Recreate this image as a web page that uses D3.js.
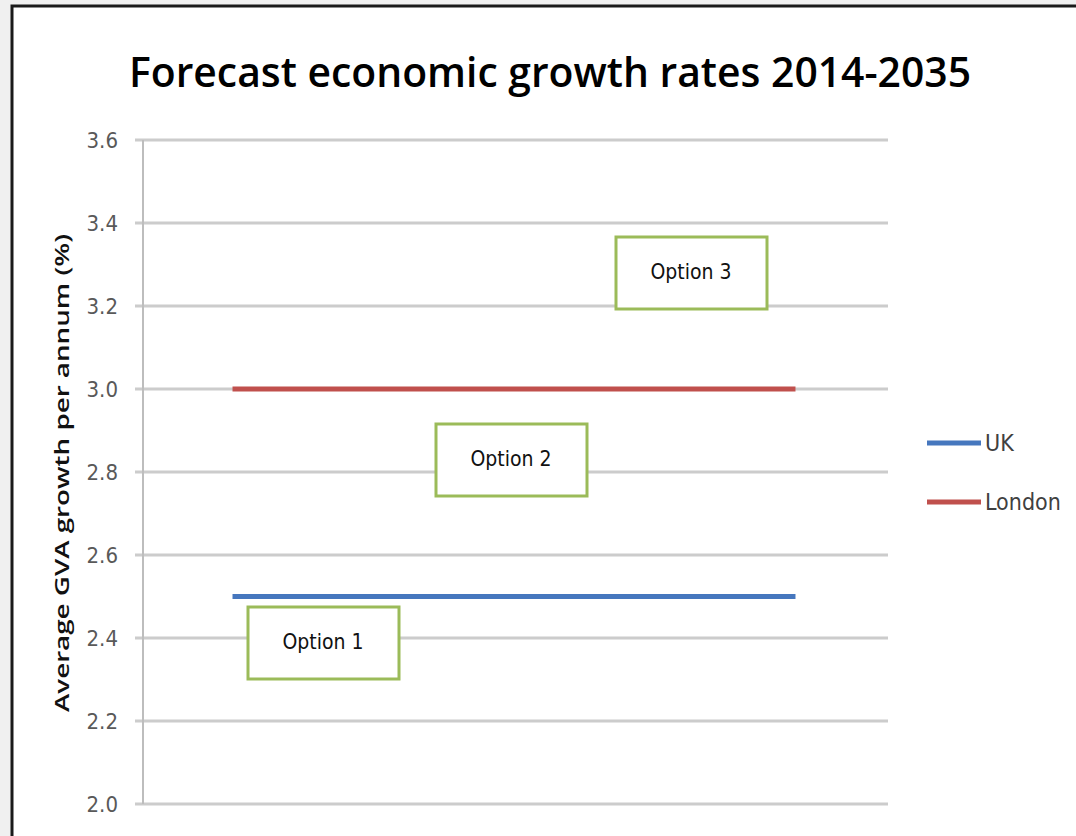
<!DOCTYPE html>
<html>
<head>
<meta charset="utf-8">
<script src="https://cdn.jsdelivr.net/npm/d3@7"></script>
<style>
  body { margin: 0; background: #f0f0f0; }
  svg { display: block; }
</style>
</head>
<body>
<svg width="1076" height="836"></svg>
<script>
// data
var years = ["2014", "2035"];
var seriesNames = ["UK", "London"];
var ukValues = [2.5, 2.5];
var londonValues = [3.0, 3.0];
var yTicks = [2.0, 2.2, 2.4, 2.6, 2.8, 3.0, 3.2, 3.4, 3.6];
var optionLabels = ["Option 1", "Option 2", "Option 3"];

var svg = d3.select("svg"),
    margin = {top: 140, left: 143, right: 191, bottom: 32},
    width = +svg.attr("width") - margin.left - margin.right,
    height = +svg.attr("height") - margin.top - margin.bottom;

// chart frame
svg.append("rect")
    .attr("x", 12).attr("y", 6)
    .attr("width", 1080).attr("height", 850)
    .attr("fill", "#fff")
    .attr("stroke", "#1a1a1a")
    .attr("stroke-width", 3);

svg.append("text")
    .attr("x", 550).attr("y", 87)
    .attr("text-anchor", "middle")
    .attr("font-family", "'Open Sans', Lato, sans-serif")
    .attr("font-weight", 600)
    .attr("font-size", 41)
    .attr("textLength", 842)
    .attr("lengthAdjust", "spacingAndGlyphs")
    .attr("fill", "#000")
    .text("Forecast economic growth rates 2014-2035");

var g = svg.append("g").attr("transform", "translate(" + margin.left + "," + margin.top + ")");

var x = d3.scalePoint().domain(years).range([0, width]).padding(0.159);
var y = d3.scaleLinear().domain([2.0, 3.6]).range([height, 0]);

// gridlines
g.append("g")
  .selectAll("line")
  .data(yTicks)
  .enter().append("line")
    .attr("x1", -8).attr("x2", width + 3)
    .attr("y1", function(d) { return y(d); })
    .attr("y2", function(d) { return y(d); })
    .attr("stroke", "#cccccc")
    .attr("stroke-width", 3);

// y axis
var yAxis = g.append("g")
    .call(d3.axisLeft(y).tickValues(yTicks).tickFormat(d3.format(".1f")).tickSize(0).tickPadding(25));
yAxis.select(".domain").remove();
yAxis.append("line")
    .attr("x1", 0).attr("x2", 0)
    .attr("y1", 0).attr("y2", height)
    .attr("stroke", "#bdbdbd")
    .attr("stroke-width", 2);
yAxis.selectAll("text")
    .attr("font-family", "'Liberation Sans Narrow', 'DejaVu Sans Condensed', sans-serif")
    .attr("font-size", 22)
    .attr("fill", "#595959");

svg.append("text")
    .attr("transform", "translate(69,473) rotate(-90)")
    .attr("text-anchor", "middle")
    .attr("font-family", "'Open Sans', sans-serif")
    .attr("font-weight", 600)
    .attr("font-size", 20)
    .attr("textLength", 478)
    .attr("lengthAdjust", "spacingAndGlyphs")
    .attr("fill", "#111")
    .text("Average GVA growth per annum (%)");

// series lines
var colors = {UK: "#4677be", London: "#c0504d"};
var series = [
  {name: "UK", values: ukValues},
  {name: "London", values: londonValues}
];
var line = d3.line()
    .x(function(d, i) { return x(years[i]); })
    .y(function(d) { return y(d); });

g.selectAll(".series")
  .data(series)
  .enter().append("path")
    .attr("class", "series")
    .attr("d", function(d) { return line(d.values); })
    .attr("fill", "none")
    .attr("stroke", function(d) { return colors[d.name]; })
    .attr("stroke-width", 5);

// option boxes
var boxPos = [[248, 607], [436, 424], [616, 237]];
var boxes = svg.append("g")
  .selectAll("g")
  .data(optionLabels)
  .enter().append("g")
    .attr("transform", function(d, i) { return "translate(" + boxPos[i][0] + "," + boxPos[i][1] + ")"; });
boxes.append("rect")
    .attr("width", 151).attr("height", 72)
    .attr("fill", "#fff")
    .attr("stroke", "#9bbb59")
    .attr("stroke-width", 3);
boxes.append("text")
    .attr("x", 75).attr("y", 42)
    .attr("text-anchor", "middle")
    .attr("font-family", "'DejaVu Sans Condensed', sans-serif")
    .attr("font-size", 21)
    .attr("fill", "#111")
    .text(function(d) { return d; });

// legend
var legend = svg.append("g")
    .attr("font-family", "'Liberation Sans Narrow', 'DejaVu Sans Condensed', sans-serif")
    .attr("font-size", 23)
  .selectAll("g")
  .data(seriesNames)
  .enter().append("g")
    .attr("transform", function(d, i) { return "translate(927," + (443 + i * 59) + ")"; });
legend.append("line")
    .attr("x1", 0).attr("x2", 54)
    .attr("stroke", function(d) { return colors[d]; })
    .attr("stroke-width", 5);
legend.append("text")
    .attr("x", 58).attr("y", 8)
    .attr("fill", "#404040")
    .text(function(d) { return d; });
</script>
</body>
</html>
